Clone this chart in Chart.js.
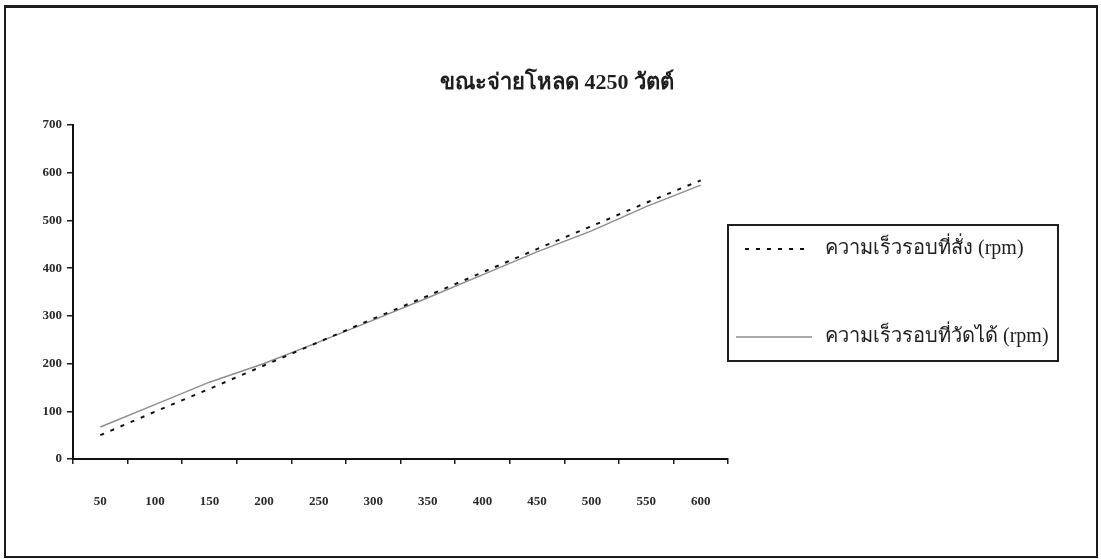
<!DOCTYPE html>
<html>
<head>
<meta charset="utf-8">
<script src="https://cdn.jsdelivr.net/npm/chart.js@4.4.1/dist/chart.umd.min.js"></script>
<style>
  html, body { margin: 0; padding: 0; background: #fff; }
  #wrap { position: relative; width: 1101px; height: 559px; }
  #frame { position: absolute; left: 4px; top: 5px; width: 1094px; height: 553px;
           box-sizing: border-box; border: 2px solid #1c1c1c; border-top-width: 3px; pointer-events: none; }
  canvas { position: absolute; left: 0; top: 0; }
</style>
</head>
<body>
<div id="wrap">
  <canvas id="speedChart" width="1101" height="559"></canvas>
  <div id="frame"></div>
</div>
<script>
// Motor speed under a 4250 W load: commanded vs measured (rpm)
const titleText = 'ขณะจ่ายโหลด 4250 วัตต์';
const categories = ['50', '100', '150', '200', '250', '300', '350', '400', '450', '500', '550', '600'];
const commandedSpeed = [50, 99, 147, 196, 245, 294, 342, 391, 440, 488, 537, 584];
const measuredSpeed = [67, 114, 161, 200, 245, 291, 338, 386, 434, 478, 529, 574];
const commandedLabel = 'ความเร็วรอบที่สั่ง (rpm)';
const measuredLabel = 'ความเร็วรอบที่วัดได้ (rpm)';
const yMin = 0, yMax = 700, yStep = 100;

const serif = '"Liberation Serif", "Times New Roman", serif';
const axisFont = { family: serif, weight: 'bold', size: 13 };
const inkColor = '#1e1e1e';

// Title drawn centred over the plot
const headlinePlugin = {
  id: 'headline',
  afterDraw(chart, args, opts) {
    const ctx = chart.ctx;
    ctx.save();
    ctx.font = 'bold 22px ' + serif;
    ctx.fillStyle = inkColor;
    ctx.textAlign = 'center';
    ctx.textBaseline = 'middle';
    ctx.fillText(opts.text, opts.x, opts.y);
    ctx.restore();
  }
};

// Boxed legend to the right of the plot, built from the datasets' own styles
const boxLegendPlugin = {
  id: 'boxLegend',
  afterDraw(chart, args, opts) {
    const ctx = chart.ctx;
    ctx.save();
    ctx.lineWidth = 2;
    ctx.strokeStyle = inkColor;
    ctx.setLineDash([]);
    ctx.strokeRect(opts.left, opts.top, opts.width, opts.height);
    chart.data.datasets.forEach((ds, i) => {
      const row = opts.rows[i];
      ctx.beginPath();
      ctx.lineWidth = ds.borderWidth;
      ctx.strokeStyle = ds.borderColor;
      ctx.setLineDash(ds.borderDash || []);
      ctx.moveTo(row.x0, row.y);
      ctx.lineTo(row.x1, row.y);
      ctx.stroke();
      ctx.setLineDash([]);
      ctx.font = opts.fontSize + 'px ' + serif;
      ctx.fillStyle = inkColor;
      ctx.textAlign = 'left';
      ctx.textBaseline = 'middle';
      ctx.fillText(ds.label, opts.textX, row.y);
    });
    ctx.restore();
  }
};

new Chart(document.getElementById('speedChart'), {
  type: 'line',
  data: {
    labels: categories,
    datasets: [
      {
        label: commandedLabel,
        data: commandedSpeed,
        borderColor: '#111111',
        borderWidth: 2,
        borderDash: [4, 7],
        pointRadius: 0,
        tension: 0,
        fill: false
      },
      {
        label: measuredLabel,
        data: measuredSpeed,
        borderColor: '#8e8e8e',
        borderWidth: 1.5,
        pointRadius: 0,
        tension: 0,
        fill: false
      }
    ]
  },
  options: {
    responsive: false,
    animation: false,
    devicePixelRatio: 1,
    layout: { padding: { left: 43, right: 373, top: 125, bottom: 0 } },
    plugins: {
      legend: { display: false },
      title: { display: false },
      tooltip: { enabled: false },
      headline: { text: titleText, x: 557, y: 83 },
      boxLegend: {
        left: 728, top: 225, width: 330, height: 136,
        textX: 825, fontSize: 20,
        rows: [ { x0: 745, x1: 806, y: 249 }, { x0: 736, x1: 812, y: 337 } ]
      }
    },
    scales: {
      x: {
        type: 'category',
        offset: true,
        afterFit(scale) { scale.height = 100; },
        grid: { display: true, offset: true, drawOnChartArea: false, drawTicks: true,
                tickLength: 5, color: inkColor, lineWidth: 1.5 },
        border: { display: true, color: '#111', width: 2 },
        ticks: { font: axisFont, color: '#2a2a2a', padding: 30, maxRotation: 0, autoSkip: false }
      },
      y: {
        min: yMin,
        max: yMax,
        afterFit(scale) { scale.width = 30; },
        grid: { display: true, drawOnChartArea: false, drawTicks: true,
                tickLength: 6, color: inkColor, lineWidth: 1.5 },
        border: { display: true, color: '#111', width: 2 },
        ticks: { stepSize: yStep, font: axisFont, color: '#2a2a2a', padding: 5 }
      }
    }
  },
  plugins: [headlinePlugin, boxLegendPlugin]
});
</script>
</body>
</html>
